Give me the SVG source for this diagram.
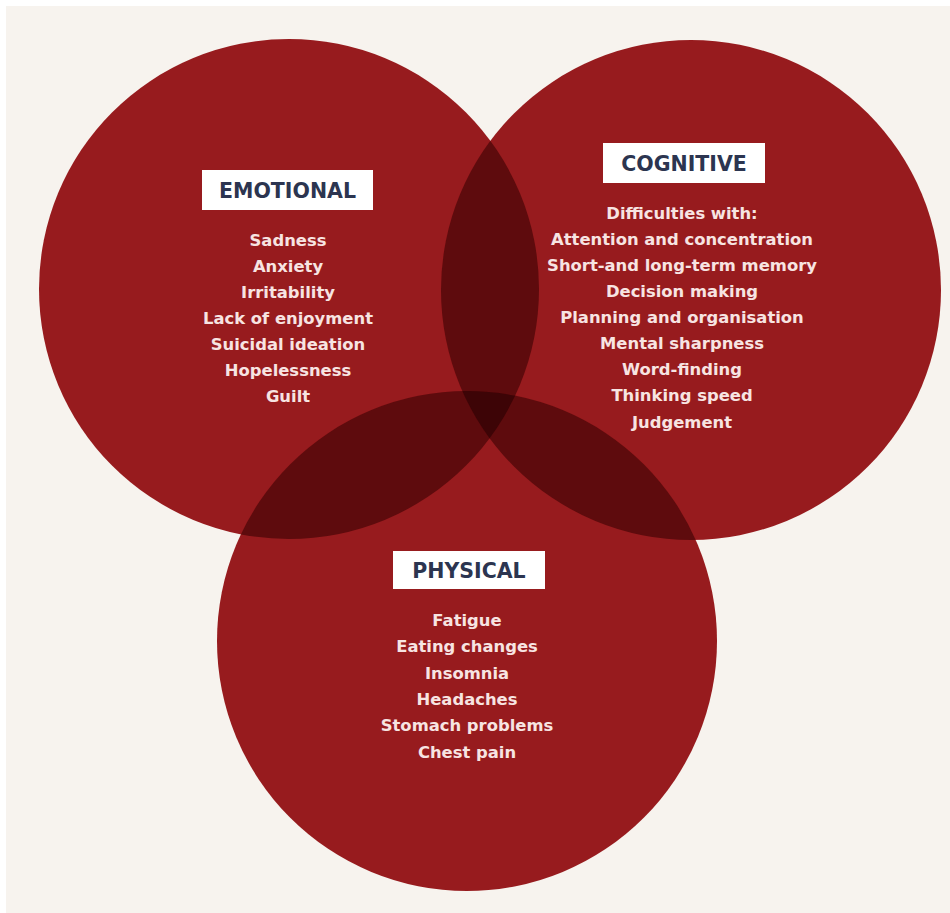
<svg xmlns="http://www.w3.org/2000/svg" width="950" height="913" viewBox="0 0 950 913">
  <style>
    .circle { fill: #971b1e; }
    .pair { fill: #5e0b0d; }
    .triple { fill: #3d0406; }
    .tag { fill: #ffffff; }
    .head { font-family: "DejaVu Sans", "Liberation Sans", sans-serif; font-weight: 700; font-size: 20.5px; fill: #2c3550; text-anchor: middle; }
    .item { font-family: "DejaVu Sans", "Liberation Sans", sans-serif; font-weight: 700; font-size: 16.4px; fill: #f7e4e2; text-anchor: middle; }
  </style>
  <defs>
    <clipPath id="clipLeft"><circle cx="289" cy="289" r="250"/></clipPath>
    <clipPath id="clipRight"><circle cx="691" cy="290" r="250"/></clipPath>
  </defs>

  <!-- page background -->
  <rect width="950" height="913" fill="#ffffff"/>
  <rect x="6" y="6" width="944" height="907" fill="#f7f3ee"/>

  <!-- the three sets -->
  <circle class="circle" cx="289" cy="289" r="250"/>
  <circle class="circle" cx="691" cy="290" r="250"/>
  <circle class="circle" cx="467" cy="641" r="250"/>

  <!-- pairwise overlaps -->
  <g clip-path="url(#clipLeft)">
    <circle class="pair" cx="691" cy="290" r="250"/>
    <circle class="pair" cx="467" cy="641" r="250"/>
  </g>
  <g clip-path="url(#clipRight)">
    <circle class="pair" cx="467" cy="641" r="250"/>
  </g>
  <!-- centre where all three meet -->
  <g clip-path="url(#clipLeft)">
    <g clip-path="url(#clipRight)">
      <circle class="triple" cx="467" cy="641" r="250"/>
    </g>
  </g>

  <g id="emotional">
    <rect class="tag" x="202" y="170" width="171" height="40"/>
    <text class="head" x="287.5" y="197.5">EMOTIONAL</text>
    <text class="item" x="288" y="246">Sadness</text>
    <text class="item" x="288" y="272">Anxiety</text>
    <text class="item" x="288" y="298">Irritability</text>
    <text class="item" x="288" y="324">Lack of enjoyment</text>
    <text class="item" x="288" y="350">Suicidal ideation</text>
    <text class="item" x="288" y="376">Hopelessness</text>
    <text class="item" x="288" y="402">Guilt</text>
  </g>

  <g id="cognitive">
    <rect class="tag" x="603" y="143" width="162" height="40"/>
    <text class="head" x="684" y="170.5">COGNITIVE</text>
    <text class="item" x="682" y="219">Difficulties with:</text>
    <text class="item" x="682" y="245">Attention and concentration</text>
    <text class="item" x="682" y="271">Short-and long-term memory</text>
    <text class="item" x="682" y="297">Decision making</text>
    <text class="item" x="682" y="323">Planning and organisation</text>
    <text class="item" x="682" y="349">Mental sharpness</text>
    <text class="item" x="682" y="375">Word-finding</text>
    <text class="item" x="682" y="401">Thinking speed</text>
    <text class="item" x="682" y="428">Judgement</text>
  </g>

  <g id="physical">
    <rect class="tag" x="393" y="551" width="152" height="38"/>
    <text class="head" x="469" y="577.5">PHYSICAL</text>
    <text class="item" x="467" y="626">Fatigue</text>
    <text class="item" x="467" y="652">Eating changes</text>
    <text class="item" x="467" y="679">Insomnia</text>
    <text class="item" x="467" y="705">Headaches</text>
    <text class="item" x="467" y="731">Stomach problems</text>
    <text class="item" x="467" y="758">Chest pain</text>
  </g>
</svg>
